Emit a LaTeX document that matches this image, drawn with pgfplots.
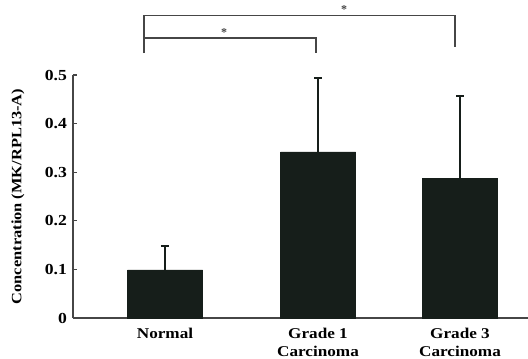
\documentclass[border=0pt]{standalone}
\usepackage{pgfplots}
\pgfplotsset{compat=1.18}
\usepackage{fontspec}
\setmainfont{Liberation Serif}
\newfontfamily\widefont[FakeStretch=1.15]{Liberation Serif}
\definecolor{barc}{RGB}{22,30,26}
\definecolor{axc}{RGB}{70,70,70}
\begin{document}
\begin{tikzpicture}
\useasboundingbox (-54.75pt,-30pt) rectangle (341.25pt,238.5pt);
\begin{axis}[
  at={(0,0)}, anchor=origin,
  scale only axis,
  width=341.25pt, height=182.25pt,
  xmin=0, xmax=455, ymin=0, ymax=0.5,
  axis lines=left,
  axis line style={axc, line width=0.9pt, -},
  clip=false,
  xtick={92,245,387},
  xticklabels={Normal,Grade 1\\Carcinoma,Grade 3\\Carcinoma},
  xticklabel style={align=center, font=\widefont\bfseries\fontsize{11.2}{13.5}\selectfont, yshift=-4pt},
  major x tick style={draw=none},
  ytick={0,0.1,0.2,0.3,0.4,0.5},
  yticklabels={0,0.1,0.2,0.3,0.4,0.5},
  yticklabel style={font=\widefont\bfseries\fontsize{11.5}{12}\selectfont, xshift=-1pt},
  tick align=inside,
  major tick length=3pt,
  tick style={axc, line width=0.8pt},
  ylabel={Concentration (MK/RPL13-A)},
  ylabel style={at={(axis description cs:-0.121,0.5)}, anchor=center, font=\widefont\bfseries\fontsize{10.7}{11}\selectfont},
]
\addplot[ybar, bar width=75, fill=barc, draw=barc,
  error bars/.cd, y dir=plus, y explicit,
  error bar style={line width=1pt, barc},
  error mark options={rotate=90, mark size=3pt, line width=1.2pt, barc}]
  coordinates {
    (92,0.099) +- (0,0.049)
    (245,0.342) +- (0,0.152)
    (387,0.288) +- (0,0.169)
  };
\draw[axc, line width=1pt] (axis cs:71,0.545) -- (axis cs:71,0.623) -- (axis cs:382,0.623) -- (axis cs:382,0.558);
\draw[axc, line width=1pt] (axis cs:71,0.576) -- (axis cs:243,0.576) -- (axis cs:243,0.545);
\node[font=\bfseries\small, text=axc] at (axis cs:271,0.635) {*};
\node[font=\bfseries\small, text=axc] at (axis cs:151,0.587) {*};
\end{axis}
\end{tikzpicture}
\end{document}
